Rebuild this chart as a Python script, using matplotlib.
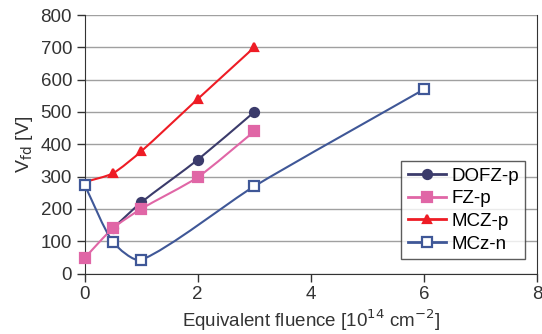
import numpy as np
import matplotlib.pyplot as plt
from matplotlib.path import Path
from matplotlib.patches import PathPatch
from matplotlib.lines import Line2D

plt.rcParams['font.family'] = ['Liberation Sans', 'DejaVu Sans']

# data
dofz_x = [0.5, 1, 2, 3]
dofz_y = [140, 220, 352, 500]
fz_x = [0, 0.5, 1, 2, 3]
fz_y = [48, 140, 200, 298, 440]
mczp_x = [0, 0.5, 1, 2, 3]
mczp_y = [283, 310, 378, 540, 700]
mczn_x = [0, 0.5, 1, 3, 6]
mczn_y = [275, 98, 42, 270, 570]

xticks = [0, 2, 4, 6, 8]
yticks = list(range(0, 801, 100))

# rough pixel scale of the axes, used only to shape the smoothing
SX, SY = 453 / 8, 258 / 800


def smooth_path(x, y, k=0.22):
    # excel-style smoothed line, cubic bezier through the points
    p = np.column_stack([x, y]).astype(float) * [SX, SY]
    n = len(p)

    def tangent(i):
        a = p[max(i - 1, 0)]
        b = p[min(i + 1, n - 1)]
        d = b - a
        return d / np.hypot(*d)

    verts = [p[0]]
    codes = [Path.MOVETO]
    for i in range(n - 1):
        L = np.hypot(*(p[i + 1] - p[i]))
        c1 = p[i] + tangent(i) * L * k
        c2 = p[i + 1] - tangent(i + 1) * L * k
        verts += [c1, c2, p[i + 1]]
        codes += [Path.CURVE4] * 3
    verts = np.array(verts) / [SX, SY]
    return Path(verts, codes)


fig = plt.figure(figsize=(5.42, 3.34), dpi=100)
ax = fig.add_axes([0.156, 0.181, 0.835, 0.774])

series = [
    (dofz_x, dofz_y, '#3b3b6b', 'o', '#3b3b6b', 'DOFZ-p', 6.5, None),
    (fz_x, fz_y, '#e066a6', 's', '#e066a6', 'FZ-p', 7, None),
    (mczp_x, mczp_y, '#ee1c25', '^', '#ee1c25', 'MCZ-p', 6, list(range(1, 5))),
    (mczn_x, mczn_y, '#3f5797', 's', 'white', 'MCz-n', 7.5, None),
]

handles = []
for x, y, c, m, fc, lab, ms, mev in series:
    ax.add_patch(PathPatch(smooth_path(x, y), facecolor='none',
                           edgecolor=c, lw=1.5, zorder=3))
    xs = x if mev is None else [x[i] for i in mev]
    ys = y if mev is None else [y[i] for i in mev]
    ax.plot(xs, ys, ls='none', marker=m, ms=ms, mfc=fc, mec=c,
            mew=1.6, zorder=4, clip_on=False)
    handles.append(Line2D([], [], color=c, lw=2, marker=m, ms=ms,
                          mfc=fc, mec=c, mew=1.6, label=lab))

ax.set_xlim(0, 8)
ax.set_ylim(0, 800)
ax.set_xticks(xticks)
ax.set_yticks(yticks)
ax.yaxis.grid(True, color='#a0a0a0', lw=1)
ax.set_axisbelow(True)
for s in ax.spines.values():
    s.set_color('#333333')
ax.spines['top'].set_visible(False)
ax.tick_params(colors='#333333', labelsize=13.5, length=6, width=1, pad=3)

ax.set_xlabel('Equivalent fluence [10$^{14}$ cm$^{-2}$]', fontsize=13.5,
              color='#333333', labelpad=3)
ax.set_ylabel('V$_{\\rm fd}$ [V]', fontsize=14, color='#333333',
              labelpad=4)

leg = ax.legend(handles=handles, loc='lower right',
                bbox_to_anchor=(0.974, 0.055), fontsize=13.5,
                frameon=True, fancybox=False, handlelength=2.0,
                handletextpad=0.3, borderpad=0.35, labelspacing=0.3,
                borderaxespad=0)
leg.get_frame().set_edgecolor('#333333')
leg.get_frame().set_linewidth(1)

fig.savefig('out.png', dpi=100)
